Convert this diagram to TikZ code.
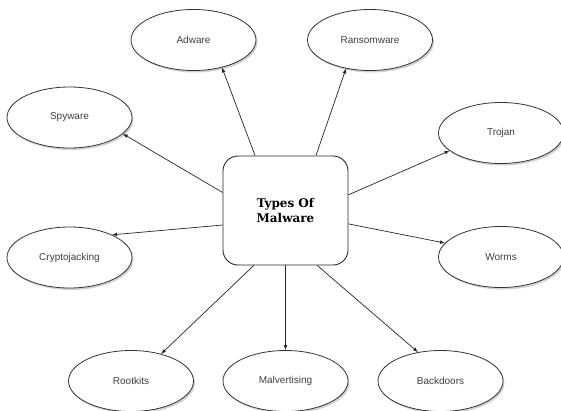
\documentclass[tikz,border=0pt]{standalone}
\usepackage{fontspec}
\setmainfont{Liberation Sans}
\newfontfamily\hubfont{DejaVu Serif}
\usetikzlibrary{shapes.geometric,shadows}
\begin{document}
\begin{tikzpicture}
			[x=1pt,y=-1pt,>=latex,
			kind/.style={ellipse,draw=black!80,line width=0.8pt,fill=white,minimum width=125pt,minimum height=61pt,inner sep=0pt,font=\fontsize{10}{12}\selectfont,text=black!75,
				drop shadow={shadow xshift=1.5pt,shadow yshift=-2pt,fill=black!35,opacity=0.5}},
			hub/.style={rectangle,rounded corners=15pt,draw=black!85,line width=0.9pt,fill=white,minimum width=125pt,minimum height=109pt,inner sep=0pt,align=center,font=\hubfont\bfseries\fontsize{12}{15}\selectfont},
			link/.style={->,line width=0.7pt,draw=black!85}]
			\useasboundingbox (0,0) rectangle (561,410);
			\node[hub,name=malware] at (285.5,210.5) {Types Of\\ Malware};
			\node[kind,name=adware] at (193.5,40) {Adware};
			\node[kind,name=ransomware] at (370,40) {Ransomware};
			\node[kind,name=spyware] at (69.5,117.5) {Spyware};
			\node[kind,name=trojan] at (501,133) {Trojan};
			\node[kind,name=crypto] at (69.5,257.5) {Cryptojacking};
			\node[kind,name=worms] at (501,257) {Worms};
			\node[kind,name=rootkits] at (131,381) {Rootkits};
			\node[kind,name=malvert] at (285.5,381) {Malvertising};
			\node[kind,name=backdoors] at (440.5,381) {Backdoors};
			\draw[link](malware.119.6)--(adware.-44);
			\draw[link](malware.61.2)--(ransomware.230);
			\draw[link](malware.164.4)--(spyware.-17);
			\draw[link](malware.14.8)--(trojan.199);
			\draw[link](malware.193)--(crypto.28);
			\draw[link](malware.-12.2)--(worms.166);
			\draw[link](malware.240)--(rootkits.42);
			\draw[link](malware.south)--(malvert.north);
			\draw[link](malware.300)--(backdoors.128);
		\end{tikzpicture}
\end{document}
